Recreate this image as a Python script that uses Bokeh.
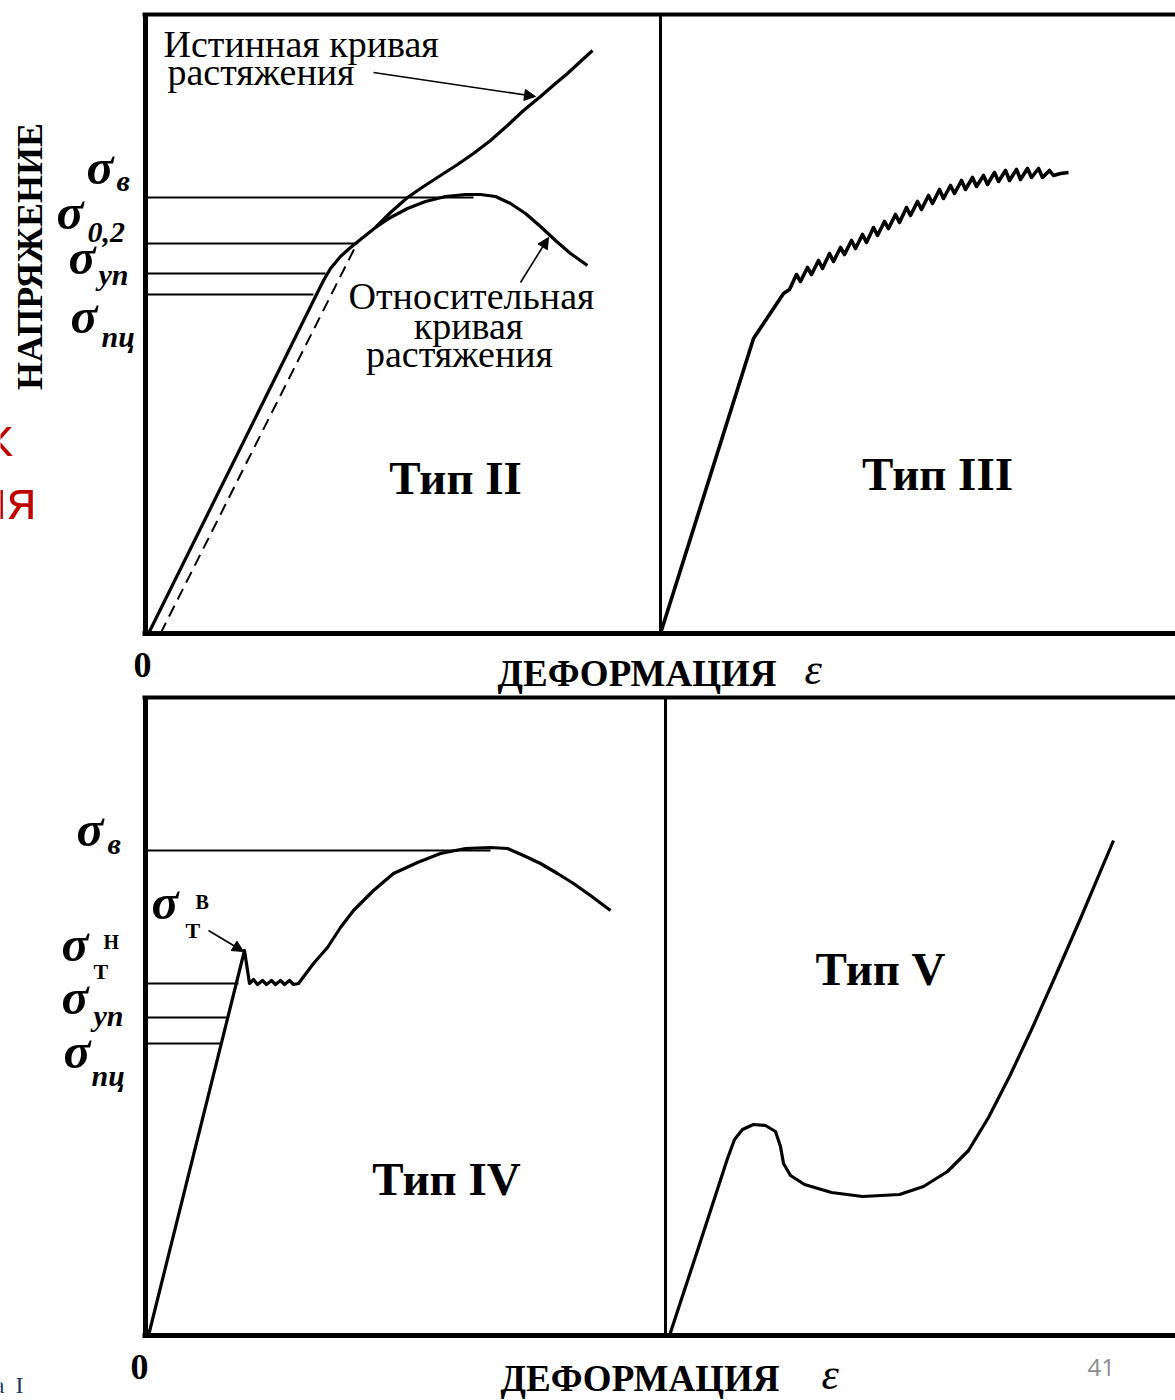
import math
from bokeh.plotting import figure
from bokeh.models import Range1d, Arrow, NormalHead
from bokeh.core.properties import value
from bokeh.embed import file_html
from bokeh.resources import INLINE

# ---------------- data (panel-local units: strain to the right, stress upward) -------------
# Type II: relative (engineering) tension curve
t2_rel_strain = [3, 173, 178, 185, 195, 205, 215, 230, 245, 262, 280, 300, 320, 335, 350,
                 365, 380, 395, 410, 425, 442]
t2_rel_stress = [0, 343, 353, 365, 377, 386, 394, 406, 416, 425, 432, 437, 439, 439, 437,
                 430, 420, 407, 393, 380, 368]
# Type II: true tension curve (branches off the relative curve)
t2_true_strain = [230, 245, 262, 278, 295, 312, 328, 345, 362, 378, 395, 410, 422, 435, 447]
t2_true_stress = [406, 421, 436, 447, 458, 469, 480, 493, 508, 523, 537, 550, 560, 572, 583]
# Type II: 0.2 % offset line (dashed)
t2_offset_strain = [15, 212]
t2_offset_stress = [0, 391]
# Type II: characteristic stress levels (σв, σ0,2, σуп, σпц) and where their lines end
t2_level_stress = [436, 390, 360, 339]
t2_level_end = [328, 212, 180, 168]

# Type III: serrated (jerky flow) curve
t3_strain = [0, 93, 107, 123, 129, 136, 140, 147, 151, 158, 162, 169, 173, 180, 184, 191,
             195, 202, 206, 213, 217, 224, 228, 235, 239, 246, 250, 257, 261, 268, 272, 279,
             283, 290, 294, 301, 305, 312, 316, 323, 327, 334, 338, 345, 349, 356, 360, 367,
             371, 378, 382, 389, 393, 400, 408]
t3_stress = [0, 295, 316, 340, 344, 359, 352, 366, 359, 373, 365, 380, 372, 386, 379, 393,
             385, 399, 391, 406, 398, 412, 405, 419, 411, 426, 418, 432, 424, 438, 430, 444,
             435, 448, 440, 453, 444, 456, 447, 458, 449, 461, 452, 463, 453, 464, 454, 465,
             456, 465, 456, 463, 458, 460, 461]

# Type IV: yield point with plateau
t4_strain = [3, 99, 104, 108, 112, 117, 121, 126, 130, 135, 139, 144, 148, 153, 168, 182,
             195, 208, 228, 248, 272, 295, 320, 345, 362, 378, 395, 412, 428, 445, 465]
t4_stress = [0, 385, 352, 356, 351, 355, 351, 355, 351, 355, 351, 355, 351, 352, 372, 388,
             408, 425, 445, 462, 473, 482, 487, 488, 487, 480, 472, 462, 452, 440, 425]
# Type IV: stress levels (σв, σт(н), σуп, σпц) and where their lines end
t4_level_stress = [485, 352, 318, 292]
t4_level_end = [345, 93, 83, 76]

# Type V
t5_strain = [4, 33, 62, 69, 77, 88, 100, 110, 115, 118, 125, 139, 166, 197, 234, 258, 282,
             303, 323, 344, 367, 391, 415, 448]
t5_stress = [0, 88, 177, 196, 206, 211, 210, 204, 189, 172, 160, 151, 143, 139, 141, 149, 164,
             185, 218, 259, 308, 362, 417, 495]

panel_titles = ["Тип II", "Тип III", "Тип IV", "Тип V"]
axis_x_label = "ДЕФОРМАЦИЯ"
axis_y_label = "НАПРЯЖЕНИЕ"

# ---------------- layout ----------------
W, H = 1175, 1400
p = figure(width=W, height=H, x_range=Range1d(0, W), y_range=Range1d(H, 0),
           output_backend="svg", toolbar_location=None, tools="", min_border=0,
           x_axis_location=None, y_axis_location=None, title=None)
p.outline_line_color = None
p.background_fill_color = "white"
p.border_fill_color = "white"
for g in p.grid:
    g.visible = False

origins = {"II": (145, 633), "III": (660, 633), "IV": (145, 1335), "V": (665, 1335)}
p.extra_x_ranges = {k: Range1d(-ox, W - ox) for k, (ox, oy) in origins.items()}
p.extra_y_ranges = {k: Range1d(oy - H, oy) for k, (ox, oy) in origins.items()}

def R(name):
    return dict(x_range_name=name, y_range_name=name)

K = "black"
SERIF = value("Liberation Serif")

# panel frames (axes)
for left, right, top in (("II", "III", 619), ("IV", "V", 638)):
    p.line([0, 0], [0, top], line_color=K, line_width=5, **R(left))
    p.line([-3, 1040], [0, 0], line_color=K, line_width=5, **R(left))
    p.line([-3, 1040], [top, top], line_color=K, line_width=4, **R(left))
    p.line([0, 0], [0, top], line_color=K, line_width=3, **R(right))

# Type II
p.segment(x0=[0] * len(t2_level_stress), y0=t2_level_stress, x1=t2_level_end, y1=t2_level_stress,
          line_color=K, line_width=2, **R("II"))
p.line(t2_offset_strain, t2_offset_stress, line_color=K, line_width=2, line_dash="12 7", **R("II"))
p.line(t2_rel_strain, t2_rel_stress, line_color=K, line_width=3.2, line_join="round", **R("II"))
p.line(t2_true_strain, t2_true_stress, line_color=K, line_width=3.2, line_join="round", **R("II"))

# Type III
p.line(t3_strain, t3_stress, line_color=K, line_width=3.6, line_join="round", **R("III"))

# Type IV
p.segment(x0=[0] * len(t4_level_stress), y0=t4_level_stress, x1=t4_level_end, y1=t4_level_stress,
          line_color=K, line_width=2, **R("IV"))
p.line(t4_strain, t4_stress, line_color=K, line_width=3.2, line_join="round", **R("IV"))

# Type V
p.line(t5_strain, t5_stress, line_color=K, line_width=3.2, line_join="round", **R("V"))

# arrows
def arrow(name, xs, ys, xe, ye):
    p.add_layout(Arrow(end=NormalHead(size=11, fill_color=K, line_color=K, line_width=1),
                       x_start=xs, y_start=ys, x_end=xe, y_end=ye,
                       line_color=K, line_width=1.6, **R(name)))

arrow("II", 228, 561, 390, 537)
arrow("II", 375, 351, 403, 396)
arrow("IV", 63, 405, 98, 384)

# ---------------- texts ----------------
# b is the wanted baseline (page pixels); the text is anchored at its em-box middle
def txt(x, b, s, size, style="normal", align="left", font=SERIF, color=K):
    p.text(x=[x], y=[b - 0.34 * size], text=[s], text_font=font, text_font_size=f"{size}px",
           text_font_style=style, text_align=align, text_baseline="middle",
           text_color=color)

# annotations in Type II
txt(163, 56, "Истинная кривая", 38)
txt(167, 84, "растяжения", 38)
txt(471, 308, "Относительная", 38, align="center")
txt(468, 338, "кривая", 38, align="center")
txt(459, 366, "растяжения", 38, align="center")

# panel titles
txt(455, 493, panel_titles[0], 47, "bold", "center")
txt(937, 489, panel_titles[1], 47, "bold", "center")
txt(446, 1194, panel_titles[2], 47, "bold", "center")
txt(880, 984, panel_titles[3], 47, "bold", "center")

# axis labels
p.text(x=[29], y=[256], text=[axis_y_label], text_font=SERIF, text_font_size="36px",
       text_font_style="bold", text_align="center", text_baseline="middle",
       text_color=K, angle=math.pi / 2)
txt(142, 677, "0", 36, "bold", "center")
txt(139, 1379, "0", 36, "bold", "center")
txt(497, 686, axis_x_label, 37, "bold")
txt(804, 684, "ε", 44, "italic")
txt(500, 1391, axis_x_label, 37, "bold")
txt(821, 1389, "ε", 44, "italic")

# stress symbols, top
BI = "bold italic"
txt(86, 183, "σ", 50, BI)
txt(116, 190, "в", 30, BI)
txt(56, 228, "σ", 50, BI)
txt(87, 242, "0,2", 30, BI)
txt(68, 273, "σ", 50, BI)
txt(98, 284, "уп", 30, BI)
txt(70, 332, "σ", 50, BI)
txt(101, 346, "пц", 30, BI)

# stress symbols, bottom
txt(76, 845, "σ", 50, BI)
txt(107, 853, "в", 30, BI)
txt(61, 960, "σ", 50, BI)
txt(103, 948, "Н", 20, "bold")
txt(93, 978, "Т", 22, "bold")
txt(151, 918, "σ", 50, BI)
txt(195, 908, "В", 20, "bold")
txt(185, 937, "Т", 22, "bold")
txt(61, 1013, "σ", 50, BI)
txt(93, 1025, "уп", 30, BI)
txt(63, 1067, "σ", 50, BI)
txt(91, 1085, "пц", 30, BI)

# slide fragments around the picture
SANS = value("Open Sans")
txt(13, 453, "к", 54, font=SANS, color="#C00000", align="right")
txt(37, 516, "ия", 54, font=SANS, color="#C00000", align="right")
txt(4, 1393, "а", 24, font=SERIF, color="#1F3864", align="right")
txt(15, 1393, "I", 24, font=SERIF, color="#1F3864")
txt(1087, 1375, "41", 24, font=SANS, color="#8C8C8C")

open("out.html", "w").write(file_html(p, INLINE))
